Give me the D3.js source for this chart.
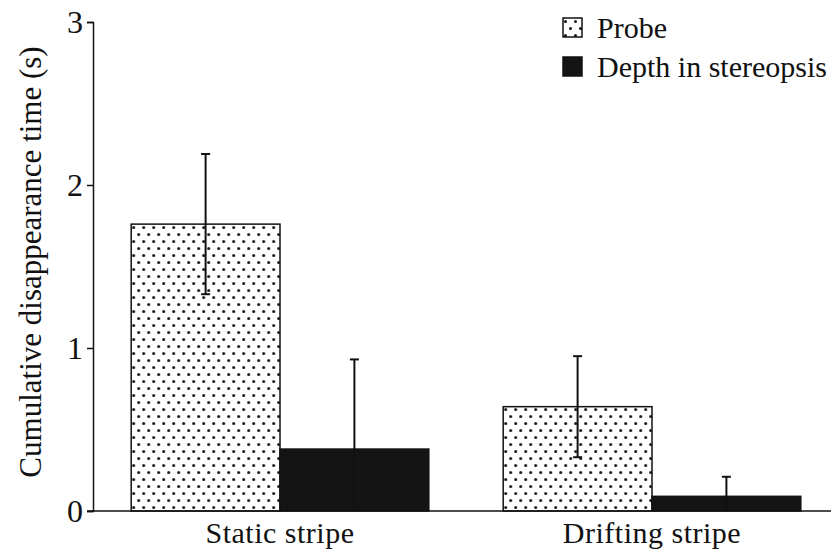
<!DOCTYPE html>
<html>
<head>
<meta charset="utf-8">
<script src="https://cdn.jsdelivr.net/npm/d3@7"></script>
<style>
  body { margin: 0; background: #fff; }
  text { font-family: "Liberation Serif", "Times New Roman", serif; fill: #111; }
</style>
</head>
<body>
<div id="chart"></div>
<script>
// data
const conditions = ["Static stripe", "Drifting stripe"];
const seriesNames = ["Probe", "Depth in stereopsis"];
const probeMeans = [1.76, 0.64];
const probeErr = [0.43, 0.31];
const depthMeans = [0.38, 0.09];
const depthErr = [0.55, 0.12];
const yTicks = [0, 1, 2, 3];

let svg_width = 831;
let svg_height = 551;

let svg = d3.select("#chart")
  .append("svg")
  .attr("width", svg_width)
  .attr("height", svg_height);

// dotted fill for the probe bars
let defs = svg.append("defs");
let dots = defs.append("pattern")
  .attr("id", "dots")
  .attr("patternUnits", "userSpaceOnUse")
  .attr("width", 10)
  .attr("height", 14);
dots.append("rect").attr("width", 10).attr("height", 14).attr("fill", "#fff");
dots.append("circle").attr("cx", 2.5).attr("cy", 3.5).attr("r", 1.5).attr("fill", "#111");
dots.append("circle").attr("cx", 7.5).attr("cy", 10.5).attr("r", 1.5).attr("fill", "#111");

const fills = ["url(#dots)", "#141414"];

// build table
let table = conditions.map((c, i) => ({
  cond: c,
  vals: [
    { key: seriesNames[0], v: probeMeans[i], e: probeErr[i] },
    { key: seriesNames[1], v: depthMeans[i], e: depthErr[i] }
  ]
}));

// scales
let x0 = d3.scaleBand()
  .domain(conditions)
  .range([94, 838])
  .paddingInner(0.2)
  .paddingOuter(0.1);

let x1 = d3.scaleBand()
  .domain(seriesNames)
  .range([0, x0.bandwidth()])
  .padding(0);

let y = d3.scaleLinear()
  .domain([0, 3])
  .range([511, 22]);

const color = d3.scaleOrdinal().domain(seriesNames).range(fills);

// bars
let groups = svg.selectAll(".grp")
  .data(table)
  .enter()
  .append("g")
  .attr("class", "grp")
  .attr("transform", d => `translate(${x0(d.cond)},0)`);

groups.selectAll("rect")
  .data(d => d.vals)
  .enter()
  .append("rect")
  .attr("x", d => x1(d.key))
  .attr("y", d => y(d.v))
  .attr("width", x1.bandwidth())
  .attr("height", d => y(0) - y(d.v))
  .attr("fill", d => color(d.key))
  .attr("stroke", "#111")
  .attr("stroke-width", 1.5);

// error bars
let capW = 4.5;
groups.selectAll(".err")
  .data(d => d.vals)
  .enter()
  .append("g")
  .attr("class", "err")
  .each(function(d) {
    let g = d3.select(this);
    let cx = x1(d.key) + x1.bandwidth() / 2;
    let lo = Math.max(0, d.v - d.e);
    let hi = d.v + d.e;
    g.append("line")
      .attr("x1", cx).attr("x2", cx)
      .attr("y1", y(lo)).attr("y2", y(hi))
      .attr("stroke", "#111").attr("stroke-width", 2);
    g.append("line")
      .attr("x1", cx - capW).attr("x2", cx + capW)
      .attr("y1", y(hi)).attr("y2", y(hi))
      .attr("stroke", "#111").attr("stroke-width", 2);
    if (d.v - d.e > 0) {
      g.append("line")
        .attr("x1", cx - capW).attr("x2", cx + capW)
        .attr("y1", y(lo)).attr("y2", y(lo))
        .attr("stroke", "#111").attr("stroke-width", 2);
    }
  });

// y axis
let yAxis = d3.axisLeft(y)
  .tickValues(yTicks)
  .tickFormat(d3.format("d"))
  .tickSize(6)
  .tickPadding(4);

let yg = svg.append("g")
  .attr("transform", "translate(93,0)")
  .call(yAxis);
yg.select(".domain").attr("stroke", "#111").attr("stroke-width", 1.5);
yg.selectAll(".tick line").attr("stroke", "#111").attr("stroke-width", 1.5);
yg.selectAll(".tick text")
  .style("font-family", "Liberation Serif, serif")
  .style("font-size", "32px")
  .attr("fill", "#111");

// x baseline + labels
svg.append("line")
  .attr("x1", 87).attr("x2", svg_width)
  .attr("y1", y(0)).attr("y2", y(0))
  .attr("stroke", "#111").attr("stroke-width", 1.5);

svg.selectAll(".xlab")
  .data(conditions)
  .enter()
  .append("text")
  .attr("class", "xlab")
  .attr("x", d => x0(d) + x0.bandwidth() / 2)
  .attr("y", 543)
  .attr("text-anchor", "middle")
  .attr("font-size", "30px")
  .attr("letter-spacing", "0.5px")
  .text(d => d);

// axis title
svg.append("text")
  .attr("transform", "translate(41,262) rotate(-90)")
  .attr("text-anchor", "middle")
  .attr("font-size", "31px")
  .text("Cumulative disappearance time (s)");

// legend
let legend = svg.selectAll(".leg")
  .data(seriesNames)
  .enter()
  .append("g")
  .attr("class", "leg")
  .attr("transform", (d, i) => `translate(563,${18 + i * 39})`);

legend.append("rect")
  .attr("width", 19)
  .attr("height", 19)
  .attr("fill", d => color(d))
  .attr("stroke", "#111")
  .attr("stroke-width", 1.5);

legend.append("text")
  .attr("x", 34)
  .attr("y", 20)
  .attr("font-size", "30px")
  .text(d => d);
</script>
</body>
</html>
